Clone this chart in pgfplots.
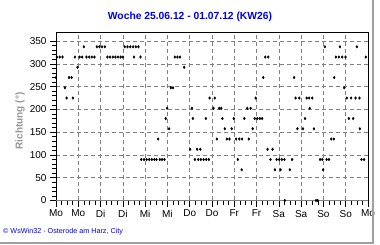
\documentclass[border=0pt]{standalone}
\usepackage{fontspec}
\setmainfont{Liberation Sans}
\usepackage{pgfplots}
\pgfplotsset{compat=1.18}
\definecolor{gridgray}{RGB}{128,128,128}
\definecolor{axgray}{RGB}{128,128,128}
\definecolor{framegray}{RGB}{160,160,160}
\definecolor{titleblue}{RGB}{0,0,230}
\definecolor{labgray}{RGB}{150,150,150}
\begin{document}
\begin{tikzpicture}
\path[use as bounding box] (-56bp,-44.5bp) rectangle (324bp,200.5bp);
\fill[white] (-56bp,-44.5bp) rectangle (324bp,200.5bp);
\begin{axis}[
  at={(0,0)}, anchor=south west,
  scale only axis, width=312bp, height=168.5bp,
  xmin=0, xmax=168, ymin=0, ymax=370,
  xtick={0,12,...,168},
  xticklabels={Mo,Mo,Di,Di,Mi,Mi,Do,Do,Fr,Fr,Sa,Sa,So,So,Mo},
  ytick={0,50,...,350},
  minor x tick num=3, minor y tick num=4,
  tick align=outside,
  xtick pos=bottom, ytick pos=left,
  major tick length=6bp, minor tick length=4bp,
  tick style={black, line width=0.6bp},
  grid=major,
  major grid style={gridgray, line width=0.6bp, dash pattern=on 4bp off 3bp},
  axis line style={black, line width=0.8bp},
  ticklabel style={font=\fontsize{10bp}{12bp}\selectfont},
  /pgf/number format/assume math mode=true,
]
\addplot[only marks, mark=diamond*, mark size=1.3bp, black] coordinates {
(0,270) (0.5,315) (2,315) (3.5,315) (4.8,247.5) (5.7,225) (7,270) (8.4,270)
(9.1,225) (10.2,315) (11.6,292.5) (12.7,315) (14.1,315) (15,337.5) (16.4,315)
(17.9,315) (19.3,315) (20.7,315) (22,337.5) (23.4,337.5) (24.8,337.5) (26.3,337.5)
(27.7,315) (29.1,315) (30.6,315) (32,315) (33.4,315) (34.8,315) (36,315)
(37,337.5) (38.5,337.5) (40,337.5) (41.5,337.5) (42,315) (43,337.5) (44.4,337.5)
(45.5,315)
(45.9,90) (47.4,90) (48.8,90) (50.2,90) (51.6,90) (53,90) (54.1,90) (55.9,90)
(57.1,90) (58.4,90) (55,135) (59.1,180) (59.8,202.5) (60.9,157.5) (61.8,247.5)
(63,247.5) (64,315) (65.4,315) (66.8,315) (69,292.5) (72.2,112.5) (73.2,202.5)
(73.7,180) (74.8,90) (76,112.5) (76.6,90) (77.7,112.5) (78,90) (79.5,90)
(80.7,180) (80.9,90) (82.3,90) (82.7,225)
(84.8,202.5) (85.5,225) (86.6,135) (87.9,202.5) (89,202.5) (89.6,180) (90.9,157.5)
(92,135) (93.4,135) (94.6,157.5) (95.7,180) (97,135) (97.9,90) (98.7,135)
(100,67.5) (100.2,135) (101.4,180) (103,202.5) (103.8,135) (104.8,202.5)
(105.9,157.5) (107,180) (107.5,225) (108.4,180) (109.8,180) (111,180) (111.6,270)
(112.7,315) (113.9,112.5) (114.3,315) (115.5,90) (116.6,112.5) (117.9,67.5)
(118.8,90) (120.2,90) (120.9,67.5) (121.6,90) (123,90) (123.2,0)
(125.9,67.5) (127.1,90) (128.2,270) (129,225) (130,157.5) (131,225) (133,157.5)
(134.1,180) (135,225) (136.3,225) (136.6,202.5) (138,225) (138.9,157.5)
(140,0) (140.9,0) (142.2,90) (143.4,90) (143.8,67.5) (144.8,337.5) (145.7,90)
(147,90) (148.2,135) (149.6,135) (149.8,270) (150.7,315) (152.3,315) (152.9,337.5)
(154.1,315) (155.2,247.5) (155.9,315) (156.6,225) (157.7,180) (158.9,225)
(160,180) (161.3,225) (162,337.5) (163.4,225) (163.6,157.5) (164.5,90)
(165.9,90) (166.8,315)
};
\draw[axgray, line width=2.5bp] ([xshift=-1bp]rel axis cs:0,0) -- ([xshift=-1bp]rel axis cs:0,1);
\draw[axgray, line width=2.5bp] ([xshift=-2.2bp,yshift=-0.5bp]rel axis cs:0,0) -- ([yshift=-0.5bp]rel axis cs:1,0);
\end{axis}
\node[font=\bfseries\fontsize{10.3bp}{12bp}\selectfont, text=titleblue] at (134bp,183.5bp) {Woche 25.06.12 - 01.07.12 (KW26)};
\node[rotate=90, font=\bfseries\fontsize{10bp}{12bp}\selectfont, text=labgray] at (-36bp,79.5bp) {Richtung (°)};
\node[anchor=west, inner sep=0pt, font=\fontsize{7.2bp}{8bp}\selectfont, text=titleblue] at (-53bp,-31.5bp) {© WsWin32 - Osterode am Harz, City};
\draw[framegray, line width=2bp] (317bp,200.5bp) -- (317bp,-42.8bp) -- (-56bp,-42.8bp);
\end{tikzpicture}
\end{document}
